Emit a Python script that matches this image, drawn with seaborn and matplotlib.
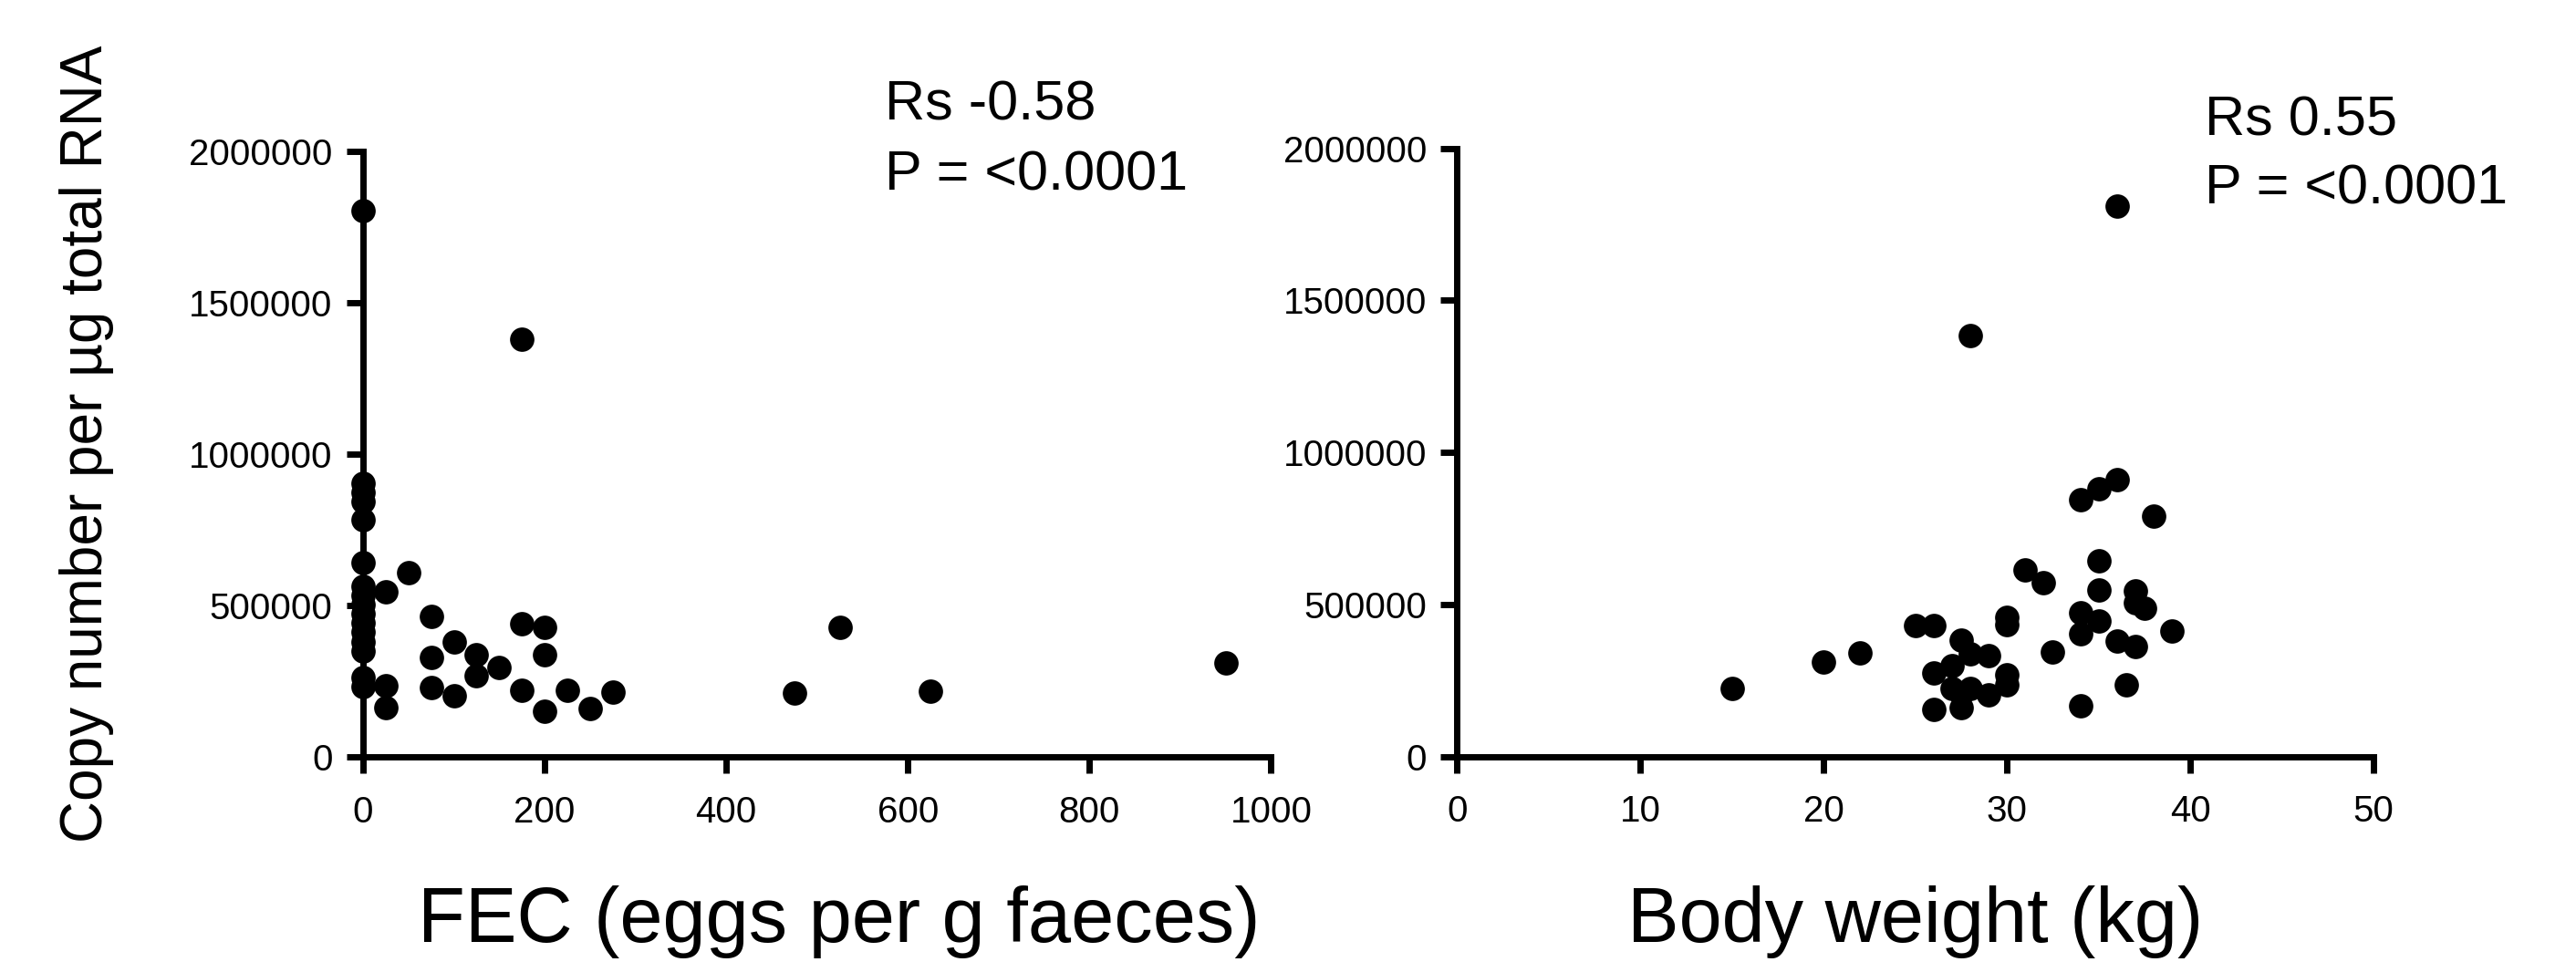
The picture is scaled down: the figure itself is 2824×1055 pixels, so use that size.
import matplotlib
matplotlib.use('Agg')
import matplotlib.pyplot as plt
import matplotlib.ticker as mticker
import seaborn as sns

# FEC vs copy number (left panel)
fec = [0, 0, 0, 0, 0, 0, 0, 0, 0, 0, 0, 0, 0, 0, 0, 0,
       25, 25, 25, 50, 75, 75, 75, 100, 100, 125, 125, 150, 175, 175, 175,
       200, 200, 200, 225, 250, 275, 475, 525, 625, 950]
fec_copies = [1804000, 906000, 875000, 843000, 785000, 641000, 565000, 535000,
              505000, 475000, 445000, 415000, 380000, 350000, 262000, 234000,
              545000, 237000, 164000, 610000, 465000, 330000, 230000, 380000,
              203000, 337000, 270000, 295000, 1380000, 440000, 222000,
              430000, 337000, 150000, 222000, 160000, 215000, 213000, 430000,
              218000, 310000]

# body weight vs copy number (right panel)
weight = [15, 20, 22, 25, 26, 26, 26, 27, 27, 27.5, 27.5, 27.5, 28, 28, 28,
          29, 29, 30, 30, 30, 30, 31, 32, 32.5, 34, 34, 34, 34, 35, 35, 35, 35,
          36, 36, 36, 36.5, 37, 37, 37, 37.5, 38, 39]
weight_copies = [222000, 310000, 340000, 431000, 430000, 273000, 153000, 298000,
                 223000, 383000, 161000, 205000, 336000, 223000, 1385000,
                 331000, 203000, 457000, 433000, 268000, 236000, 613000, 570000,
                 344000, 471000, 403000, 166000, 845000, 642000, 546000, 445000,
                 880000, 380000, 910000, 1810000, 235000, 543000, 505000, 360000,
                 488000, 790000, 411000]

yticks = [0, 500000, 1000000, 1500000, 2000000]

sns.set_style('ticks')
plt.rcParams['font.family'] = ['Liberation Sans', 'DejaVu Sans']
plt.rcParams['text.color'] = 'black'
plt.rcParams['axes.labelcolor'] = 'black'

fig = plt.figure(figsize=(28.24, 10.55), dpi=100)
ax1 = fig.add_axes([0.14093, 0.21299, 0.35251, 0.62938])
ax2 = fig.add_axes([0.56568, 0.21374, 0.35570, 0.63223])

sns.scatterplot(x=fec, y=fec_copies, ax=ax1, color='black', s=370,
                linewidth=0, clip_on=False, zorder=3)
sns.scatterplot(x=weight, y=weight_copies, ax=ax2, color='black', s=370,
                linewidth=0, clip_on=False, zorder=3)

ax1.set_xlim(0, 1000)
ax1.set_xticks([0, 200, 400, 600, 800, 1000])
ax2.set_xlim(0, 50)
ax2.set_xticks([0, 10, 20, 30, 40, 50])

for ax in (ax1, ax2):
    ax.set_ylim(0, 2000000)
    ax.set_yticks(yticks)
    ax.yaxis.set_major_formatter(mticker.StrMethodFormatter('{x:.0f}'))
    sns.despine(ax=ax)
    for side in ('left', 'bottom'):
        ax.spines[side].set_linewidth(5)
        ax.spines[side].set_color('black')
    ax.tick_params(axis='both', length=13, width=5, color='black',
                   labelsize=29, labelcolor='black')
    ax.tick_params(axis='x', pad=17)
    ax.tick_params(axis='y', pad=11)

ax1.set_xlabel('FEC (eggs per g faeces)', fontsize=61, color='black')
ax1.xaxis.set_label_coords(0.524, -0.3057)
ax1.xaxis.label.set_va('baseline')

ax2.set_xlabel('Body weight (kg)', fontsize=61, color='black')
ax2.xaxis.set_label_coords(0.5, -0.3051)
ax2.xaxis.label.set_va('baseline')

ax1.set_ylabel('Copy number per µg total RNA', fontsize=46, color='black')
ax1.yaxis.set_label_coords(-0.2876, 0.518)
ax1.yaxis.label.set_va('baseline')
ax2.set_ylabel('')

# correlation annotations
fig.text(970 / 2824, 1 - 131.7 / 1055, 'Rs -0.58', fontsize=44, va='baseline')
fig.text(970 / 2824, 1 - 208.3 / 1055, 'P = <0.0001', fontsize=44, va='baseline')
fig.text(2417 / 2824, 1 - 148.3 / 1055, 'Rs 0.55', fontsize=44, va='baseline')
fig.text(2417 / 2824, 1 - 224 / 1055, 'P = <0.0001', fontsize=44, va='baseline')

fig.savefig('out.png', dpi=100, facecolor='white')
